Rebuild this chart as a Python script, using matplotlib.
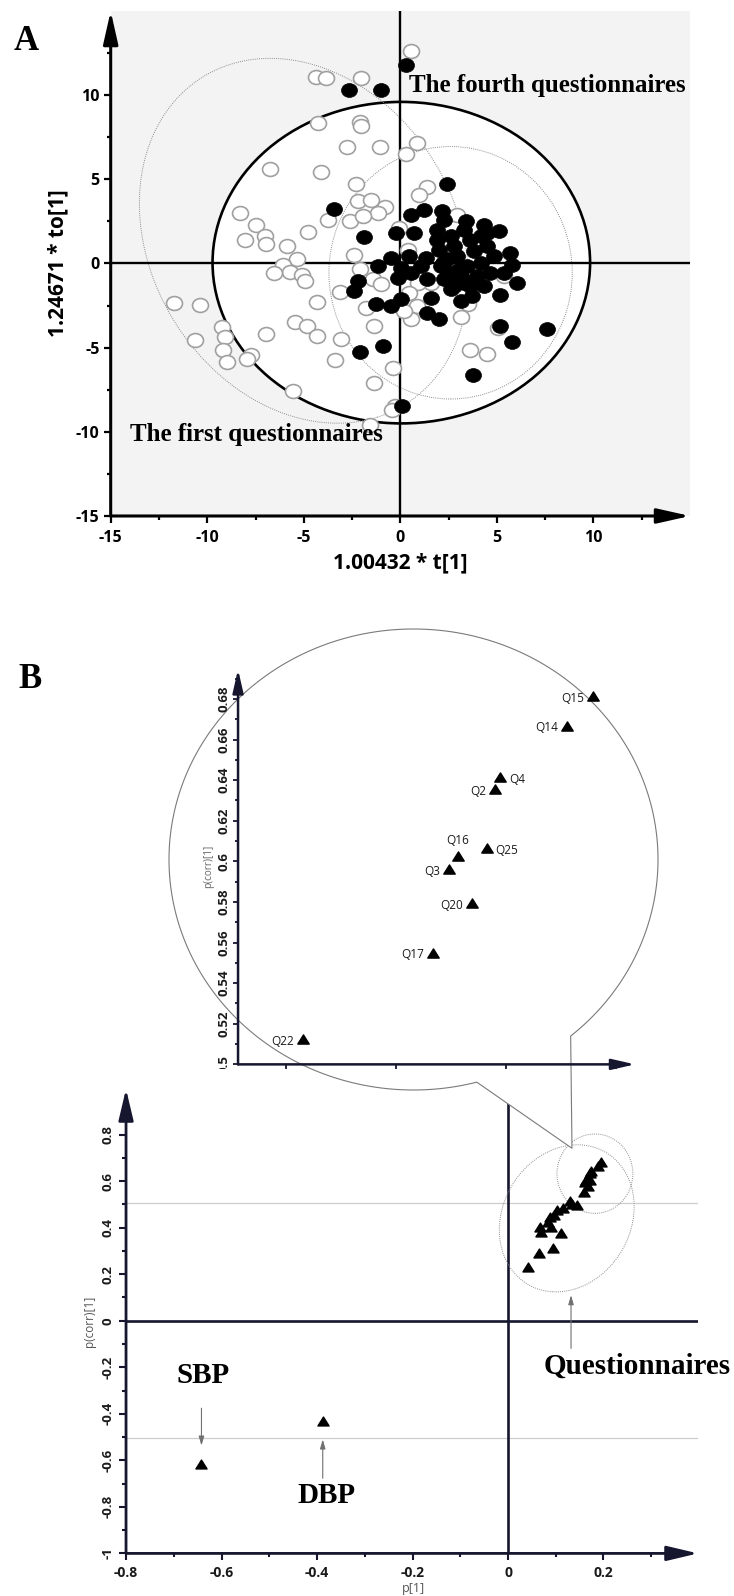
import numpy as np
import matplotlib
matplotlib.use("Agg")
import matplotlib.pyplot as plt
from matplotlib.patches import Ellipse, PathPatch
from matplotlib.path import Path
from matplotlib.transforms import Bbox

# ---------------- panel A: score plot ----------------
first_t = [0.53, -4.36, -3.87, -2.06, -4.24, -2.1, -2.03, -2.75, -1.05, 0.87,
           0.28, -6.73, -4.09, -2.3, 1.37, 0.94, -2.21, -1.52, -0.8, -1.18,
           -2.59, -1.95, -3.75, -8.3, -7.5, -4.77, -8.04, -7.0, -6.97, -5.88,
           -5.33, -2.42, -6.1, -5.7, -6.54, -5.08, -4.96, -2.07, -1.43, -1.0,
           -3.1, -4.31, -11.7, -10.36, -1.76, -5.45, -4.82, -9.25, -9.1, -10.65,
           -6.97, -4.31, -1.37, -3.07, -9.18, -8.98, -7.75, -7.94, -3.4, -5.57,
           -1.38, -0.4, -0.3, -0.41, -1.55, 3.13, 0.54, 0.86, 0.2, 3.6,
           4.48, 5.04, 3.5, -0.06, 0.37, 2.95, 1.57, 0.89, 0.45, 5.35]
first_to = [12.6, 11.1, 11.0, 11.0, 8.35, 8.4, 8.14, 6.92, 6.9, 7.13,
            6.52, 5.64, 5.43, 4.72, 4.56, 4.04, 3.69, 3.8, 3.37, 3.02,
            2.5, 2.8, 2.58, 3.0, 2.3, 1.88, 1.37, 1.63, 1.16, 1.04,
            0.25, 0.48, -0.1, -0.53, -0.59, -0.7, -1.04, -0.3, -0.95, -1.2,
            -1.7, -2.28, -2.33, -2.45, -2.65, -3.45, -3.7, -3.8, -4.36, -4.57,
            -4.16, -4.29, -3.73, -4.5, -5.14, -5.84, -5.41, -5.69, -5.73, -7.57,
            -7.1, -6.18, -8.48, -8.73, -9.6, -3.2, -3.3, -2.52, -2.82, -5.16,
            -5.35, -3.85, -2.4, 2.11, 0.83, 2.9, -1.14, -1.14, -1.73, -0.75]

fourth_t = [0.28, -2.64, -1.0, 2.4, -3.46, 0.54, 1.23, 2.18, 2.26, 3.38,
            4.32, 5.13, -1.87, -0.23, 0.71, 1.92, 2.6, 3.63, 4.15, 2.0,
            2.77, 3.8, 2.95, 4.84, 5.7, 5.78, -0.49, 0.45, 1.31, -1.18,
            0.03, 1.06, 2.09, 2.6, 3.46, 4.15, 4.66, 5.35, 6.04, -2.21,
            -2.38, -0.14, 0.54, 1.4, 2.6, 3.29, 4.32, 5.18, 3.12, 3.72,
            -1.26, -0.49, 0.03, 1.57, 1.4, 2.0, 5.18, 7.59, 5.78, -0.92,
            -2.07, 3.77, 0.11, 2.43, 3.12, 3.98, 2.26, 2.77, 3.63, 1.92,
            3.29, 4.49, 4.49, 2.2, 3.0]
fourth_to = [11.78, 10.33, 10.33, 4.7, 3.24, 2.9, 3.15, 3.1, 2.6, 2.5,
             2.31, 1.95, 1.6, 1.82, 1.82, 1.42, 1.62, 1.42, 1.62, 0.83,
             1.02, 0.73, 0.43, 0.43, 0.63, -0.06, 0.34, 0.43, 0.34, -0.16,
             -0.26, -0.16, -0.16, -0.55, -0.16, 0.04, -0.55, -0.55, -1.14, -1.05,
             -1.64, -0.85, -0.55, -0.95, -1.54, -1.14, -1.34, -1.89, -2.23, -1.93,
             -2.43, -2.52, -2.13, -2.03, -2.92, -3.31, -3.71, -3.87, -4.66, -4.89,
             -5.23, -6.6, -8.44, 0.24, -0.75, -0.75, -0.95, -1.34, -1.34, 2.01,
             2.01, 1.82, 1.02, 0.0, -0.4]

a_ticks = [-15, -10, -5, 0, 5, 10]
a_minor = [-12.5, -7.5, -2.5, 2.5, 7.5, 12.5]

# ---------------- panel B: loading plot ----------------
bp_names = ["SBP", "DBP"]
bp_p = [-0.642, -0.388]
bp_pcorr = [-0.616, -0.430]

q_names = ["Q15", "Q14", "Q4", "Q2", "Q25", "Q16", "Q3", "Q20", "Q17", "Q22"]
q_p = [0.1948, 0.189, 0.1738, 0.1725, 0.1707, 0.1642, 0.1621, 0.1673, 0.1585, 0.129]
q_pcorr = [0.6815, 0.6669, 0.6416, 0.6357, 0.6064, 0.6027, 0.5961, 0.5795, 0.555, 0.5125]
q_side = ["l", "l", "r", "l", "r", "t", "l", "l", "l", "l"]

other_p = [0.144, 0.133, 0.116, 0.102, 0.096, 0.088, 0.084, 0.067, 0.070, 0.091,
           0.112, 0.065, 0.095, 0.042]
other_pcorr = [0.497, 0.503, 0.483, 0.476, 0.455, 0.447, 0.425, 0.404, 0.382, 0.404,
               0.375, 0.292, 0.311, 0.232]

b_xticks = [-0.8, -0.6, -0.4, -0.2, 0, 0.2]
b_xlabels = ["-0.8", "-0.6", "-0.4", "-0.2", "0", "0.2"]
b_xminor = [-0.7, -0.5, -0.3, -0.1, 0.1, 0.3]
b_yticks = [-1, -0.8, -0.6, -0.4, -0.2, 0, 0.2, 0.4, 0.6, 0.8]
b_ylabels = ["-1", "-0.8", "-0.6", "-0.4", "-0.2", "0", "0.2", "0.4", "0.6", "0.8"]
b_yminor = [-0.9, -0.7, -0.5, -0.3, -0.1, 0.1, 0.3, 0.5, 0.7, 0.9]
i_xticks = [0.125, 0.15, 0.175, 0.2]
i_yticks = [0.5, 0.52, 0.54, 0.56, 0.58, 0.6, 0.62, 0.64, 0.66, 0.68]
i_ylabels = ["0.5", "0.52", "0.54", "0.56", "0.58", "0.6", "0.62", "0.64", "0.66", "0.68"]
i_yminor = [0.51, 0.53, 0.55, 0.57, 0.59, 0.61, 0.63, 0.65, 0.67, 0.69]

SANS = ["Open Sans", "DejaVu Sans"]
SERIF = ["Liberation Serif", "DejaVu Serif"]
NAVY = "#16162e"

circ = Path.unit_circle()
oval = Path(circ.vertices * [1.15, 1.0], circ.codes)
tri = Path([(0, 0.8), (-1, -0.8), (1, -0.8), (0, 0.8)],
           [Path.MOVETO, Path.LINETO, Path.LINETO, Path.CLOSEPOLY])


def axis_arrows(ax, color, lw, hl, hw):
    kw = dict(arrowstyle=f"-|>,head_length={hl},head_width={hw}", color=color,
              lw=lw, shrinkA=0, shrinkB=0, mutation_scale=10)
    ax.annotate("", xy=(1, 0), xytext=(0, 0), xycoords="axes fraction",
                arrowprops=kw, annotation_clip=False)
    ax.annotate("", xy=(0, 1), xytext=(0, 0), xycoords="axes fraction",
                arrowprops=kw, annotation_clip=False)


fig = plt.figure(figsize=(7.34, 15.96), dpi=100)

# ================= A =================
axA = fig.add_axes([0.1508, 0.6767, 0.7893, 0.3164])
axA.set_xlim(-15, 15)
axA.set_ylim(-15, 15)
axA.set_facecolor("#f3f3f3")
for s in axA.spines.values():
    s.set_visible(False)

axA.add_patch(Ellipse((0.05, 0.05), 19.55, 19.1, facecolor="white",
                      edgecolor="black", lw=1.9, zorder=1))
axA.add_patch(Ellipse((-5.0, 1.35), 16.2, 22.3, angle=20, fill=False,
                      ec="#8c8c8c", lw=0.7, ls=(0, (1, 1.2)), zorder=2))
axA.add_patch(Ellipse((2.6, -0.55), 12.6, 15.0, fill=False,
                      ec="#8c8c8c", lw=0.7, ls=(0, (1, 1.2)), zorder=2))
axA.axhline(0, color="black", lw=1.7, zorder=3)
axA.axvline(0, color="black", lw=1.7, zorder=3)

axA.scatter(first_t, first_to, marker=oval, s=132, facecolor="white",
            edgecolor="#a0a0a0", lw=1.2, zorder=4)
axA.scatter(fourth_t, fourth_to, marker=oval, s=132, facecolor="black",
            edgecolor="black", lw=0.5, zorder=5)

axis_arrows(axA, "black", 2.2, 2.0, 0.45)

axA.set_xticks(a_ticks, [str(t) for t in a_ticks], fontweight="bold",
               family=SANS, fontsize=11.5)
axA.set_yticks(a_ticks, [str(t) for t in a_ticks], fontweight="bold",
               family=SANS, fontsize=11.5)
axA.set_xticks(a_minor, minor=True)
axA.set_yticks(a_minor, minor=True)
axA.tick_params(which="major", length=5, width=1.6, color="black")
axA.tick_params(which="minor", length=3, width=1.6, color="black")
axA.tick_params(axis="x", pad=5)
axA.tick_params(axis="y", pad=3)

axA.set_xlabel("1.00432 * t[1]", fontsize=15, fontweight="bold", family=SANS)
axA.xaxis.set_label_coords(0.5, -0.093)
axA.xaxis.label.set_va("center")
axA.set_ylabel("1.24671 * to[1]", fontsize=15, fontweight="bold", family=SANS)
axA.yaxis.set_label_coords(-0.091, 0.5)
axA.yaxis.label.set_va("center")

axA.text(0.46, 10.2, "The fourth questionnaires", fontsize=18, fontweight="bold",
         family=SERIF, va="baseline", zorder=6)
axA.text(-14.0, -10.57, "The first questionnaires", fontsize=18, fontweight="bold",
         family=SERIF, va="baseline", zorder=6)

fig.text(26 / 734, 1 - 41 / 1596, "A", fontsize=25, fontweight="bold",
         family=SERIF, ha="center", va="center")
fig.text(30 / 734, 1 - 680 / 1596, "B", fontsize=25, fontweight="bold",
         family=SERIF, ha="center", va="center")

# ================= B main =================
axB = fig.add_axes([0.1717, 0.02669, 0.7793, 0.291], zorder=1)
axB.set_xlim(-0.8, 0.398)
axB.set_ylim(-1, 0.996)
axB.patch.set_alpha(0)
for s in axB.spines.values():
    s.set_visible(False)

axB.axhline(0.508, color="#cdcdcd", lw=0.9, zorder=1)
axB.axhline(-0.505, color="#cdcdcd", lw=0.9, zorder=1)
axB.axhline(0, color=NAVY, lw=1.9, zorder=2)
axB.axvline(0, color=NAVY, lw=1.9, zorder=2)
axB.add_patch(Ellipse((0.123, 0.44), 0.278, 0.634, angle=-5, fill=False,
                      ec="#8c8c8c", lw=0.7, ls=(0, (1, 1.2)), zorder=2))
axB.add_patch(Ellipse((0.182, 0.632), 0.159, 0.341, fill=False,
                      ec="#8c8c8c", lw=0.7, ls=(0, (1, 1.2)), zorder=2))

axB.scatter(other_p, other_pcorr, marker=tri, s=64, color="black", zorder=4)
axB.scatter(q_p, q_pcorr, marker=tri, s=64, color="black", zorder=4)
axB.scatter(bp_p, bp_pcorr, marker=tri, s=64, color="black", zorder=4)

axis_arrows(axB, NAVY, 2.0, 1.9, 0.45)

axB.set_xticks(b_xticks, b_xlabels, fontweight="bold", family=SANS, fontsize=10)
axB.set_yticks(b_yticks, b_ylabels, fontweight="bold", family=SANS, fontsize=9.5,
               rotation=90, va="center")
axB.set_xticks(b_xminor, minor=True)
axB.set_yticks(b_yminor, minor=True)
axB.tick_params(which="major", length=5, width=1.5, color=NAVY, labelcolor="#1a1a1a")
axB.tick_params(which="minor", length=3, width=1.5, color=NAVY)
axB.tick_params(axis="x", pad=4)
axB.tick_params(axis="y", pad=3)

axB.set_xlabel("p[1]", fontsize=9, color="#555555", family=SANS)
axB.xaxis.set_label_coords(0.502, -0.0745)
axB.xaxis.label.set_va("center")
axB.set_ylabel("p(corr)[1]", fontsize=8.5, color="#555555", family=SANS)
axB.yaxis.set_label_coords(-0.0647, 0.5)
axB.yaxis.label.set_va("center")

txt_kw = dict(fontsize=21, fontweight="bold", family=SERIF, va="baseline", zorder=6)
axB.text(-0.639, -0.269, bp_names[0], ha="center", **txt_kw)
axB.text(-0.38, -0.785, bp_names[1], ha="center", **txt_kw)
axB.text(0.075, -0.226, "Questionnaires", ha="left", clip_on=False, **txt_kw)

arr_kw = dict(arrowstyle="-|>,head_length=0.55,head_width=0.16", color="#707070",
              lw=0.8, shrinkA=0, shrinkB=0)
axB.annotate("", xy=(bp_p[0], -0.537), xytext=(bp_p[0], -0.376), arrowprops=arr_kw)
axB.annotate("", xy=(bp_p[1], -0.51), xytext=(bp_p[1], -0.677), arrowprops=arr_kw)
axB.annotate("", xy=(0.132, 0.11), xytext=(0.132, -0.119), arrowprops=arr_kw)

# ================= callout =================
ov = fig.add_axes([0, 0, 1, 1], zorder=2)
ov.set_xlim(0, 734)
ov.set_ylim(1596, 0)
ov.axis("off")
ov.patch.set_visible(False)
tip = ov.transData.inverted().transform(axB.transData.transform((0.134, 0.741)))
ang = np.deg2rad(np.linspace(75, 410, 300))
cx, cy, rx, ry = 413.5, 859.5, 244.5, 230.5
verts = np.column_stack([cx + rx * np.cos(ang), cy + ry * np.sin(ang)])
verts = np.vstack([verts, tip, verts[:1]])
codes = [Path.MOVETO] + [Path.LINETO] * (len(verts) - 2) + [Path.CLOSEPOLY]
ov.add_patch(PathPatch(Path(verts, codes), facecolor="white", edgecolor="#7a7a7a",
                       lw=0.8))

# ================= B inset =================
axI = fig.add_axes([0.3243, 0.3331, 0.5409, 0.2475], zorder=3)
axI.set_xlim(0.1142, 0.2044)
axI.set_ylim(0.5, 0.6946)
axI.patch.set_visible(False)
for s in axI.spines.values():
    s.set_visible(False)
axis_arrows(axI, NAVY, 1.8, 1.4, 0.32)
axI.scatter(q_p, q_pcorr, marker=tri, s=68, color="black", zorder=4)
for name, x, y, side in zip(q_names, q_p, q_pcorr, q_side):
    if side == "l":
        off, ha = (-6.3, -1.5), "right"
    elif side == "r":
        off, ha = (6.3, -1.5), "left"
    else:
        off, ha = (0, 11), "center"
    axI.annotate(name, (x, y), xytext=off, textcoords="offset points", ha=ha,
                 va="center", fontsize=8.5, family=SANS, color="#1a1a1a")

axI.set_xticks(i_xticks, [""] * len(i_xticks))
axI.set_yticks(i_yticks, i_ylabels, fontweight="bold", family=SANS, fontsize=9.5,
               rotation=90, va="center")
axI.set_yticks(i_yminor, minor=True)
axI.tick_params(which="major", length=3.5, width=1.3, color=NAVY, labelcolor="#1a1a1a",
                pad=2)
axI.tick_params(which="minor", length=2.2, width=1.3, color=NAVY)
axI.set_ylabel("p(corr)[1]", fontsize=7.2, color="#666666", family=SANS)
axI.yaxis.set_label_coords(-0.075, 0.5)
axI.yaxis.label.set_va("center")

clip = Bbox.from_extents(0, 1596 - 1069, 734, 1596)
for tk in axI.yaxis.get_major_ticks():
    tk.label1.set_clip_box(clip)
    tk.label1.set_clip_on(True)

fig.savefig("out.png", dpi=100, facecolor="white")
